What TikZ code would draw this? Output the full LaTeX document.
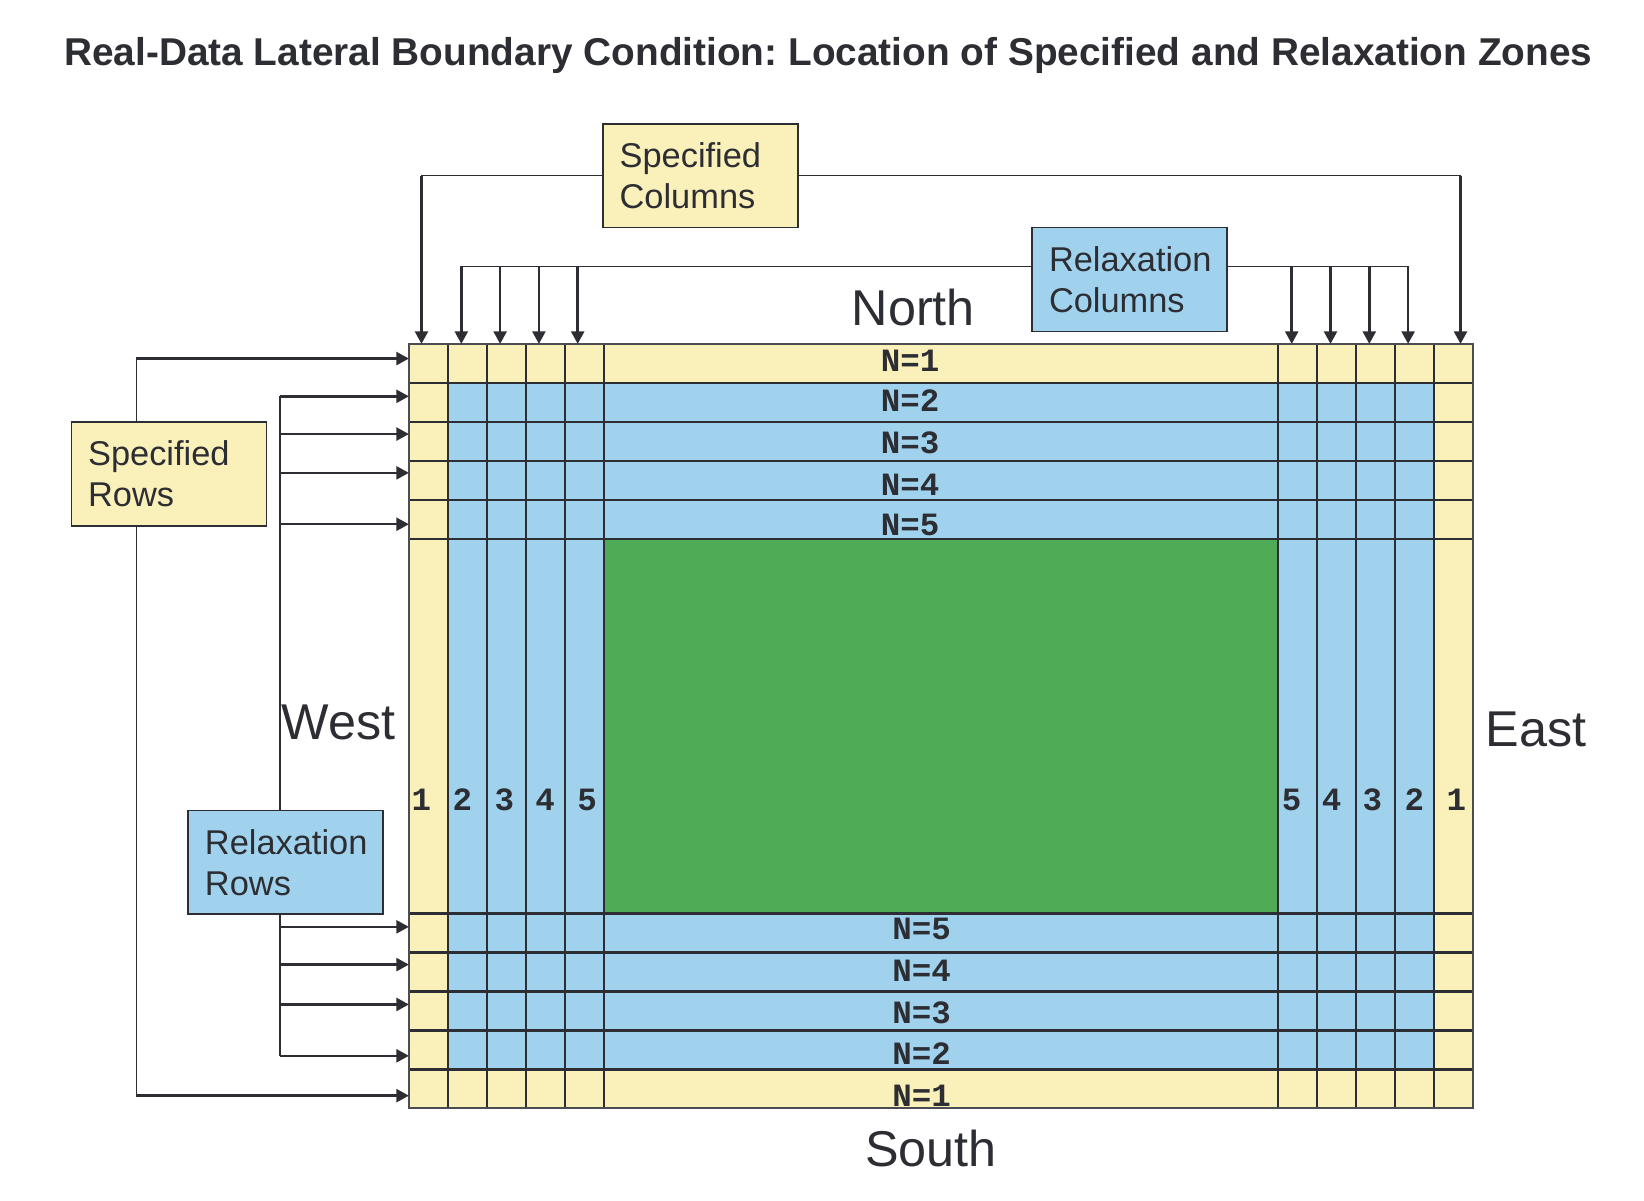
\documentclass[tikz,border=0pt]{standalone}
\usepackage{fontspec}
\setmainfont{Liberation Sans}
\setmonofont{Liberation Mono}
\usetikzlibrary{arrows.meta}
\definecolor{bcYellow}{HTML}{FAF0BA}
\definecolor{bcBlue}{HTML}{A0D2EE}
\definecolor{bcGreen}{HTML}{4FAB55}
\definecolor{bcInk}{HTML}{2D2E33}
\frenchspacing

\begin{document}
\begin{tikzpicture}[x=0.5pt, y=-0.5pt, >={Triangle[length=6pt,width=6.2pt]},
    zonebox/.style={draw=bcInk, line width=0.75pt, minimum width=93pt, minimum height=49.5pt,
                    text width=77pt, inner xsep=8pt, align=left, text=bcInk,
                    font=\fontsize{16.4}{19.5}\selectfont},
    compass/.style={font=\fontsize{24}{28}\selectfont, text=bcInk, inner sep=0pt, anchor=base},
    rowlbl/.style={font=\ttfamily\bfseries\fontsize{15.5}{17}\selectfont, text=bcInk, inner sep=0pt},
    gridline/.style={draw=bcInk, line width=1.3pt},
    link/.style={draw=bcInk, line width=0.65pt},
    feed/.style={->, draw=bcInk, line width=1.2pt}]

  \useasboundingbox (0,0) rectangle (1568,1145);

  \node[font=\bfseries\fontsize{18.5}{22}\selectfont, text=bcInk, anchor=base, inner sep=0pt] (title) at (790,62)
        {Real-Data Lateral Boundary Condition: Location of Specified and Relaxation Zones};

  % the grid
  \fill[bcYellow] (390,328) rectangle (1405,1057);
  \fill[bcBlue]   (427.2,365.2) rectangle (1367.8,1019.8);
  \fill[bcGreen]  (576,514) rectangle (1219,871);
  \foreach \x in {427.2,464.4,501.6,538.8,576,1219,1256.2,1293.4,1330.6,1367.8} {
    \draw[gridline] (\x,328) -- (\x,1057);
  }
  \foreach \y in {365.2,402.4,439.6,476.8,514,871,908.2,945.4,982.6,1019.8} {
    \draw[gridline] (390,\y) -- (1405,\y);
  }
  \draw[bcInk!85, line width=0.8pt] (390,328) rectangle (1405,1057);

  \foreach \lbl/\y [count=\i] in {1/344,2/382,3/422,4/462,5/501} {
    \node[rowlbl] (nt\i) at (868,\y) {N=\lbl};
  }
  \foreach \lbl/\y [count=\i] in {5/886,4/926,3/966,2/1005,1/1045} {
    \node[rowlbl] (nb\i) at (879,\y) {N=\lbl};
  }
  \foreach \x [count=\i] in {402,441,481,520,560} {
    \node[rowlbl] (cw\i) at (\x,763) {\i};
  }
  \foreach \x/\lbl [count=\i] in {1232/5,1270/4,1309/3,1349/2,1389/1} {
    \node[rowlbl] (ce\i) at (\x,763) {\lbl};
  }

  \node[compass] (north) at (871,310)  {North};
  \node[compass] (south) at (888,1113) {South};
  \node[compass] (west)  at (323,705)  {West};
  \node[compass] (east)  at (1465,712) {East};

  \node[zonebox, fill=bcYellow] (speccols)  at (668,167.5)   {Specified\\Columns};
  \node[zonebox, fill=bcBlue]   (relaxcols) at (1077.5,266.5) {Relaxation\\Columns};
  \node[zonebox, fill=bcYellow] (specrows)  at (161,452)     {Specified\\Rows};
  \node[zonebox, fill=bcBlue]   (relaxrows) at (272.5,822.5) {Relaxation\\Rows};

  % specified columns
  \coordinate (scw) at (402,328);
  \coordinate (sce) at (1393,328);
  \draw[link] (speccols.west) -- (speccols.west -| scw);
  \draw[feed] (speccols.west -| scw) -- (scw);
  \draw[link] (speccols.east) -- (speccols.east -| sce);
  \draw[feed] (speccols.east -| sce) -- (sce);

  % relaxation columns
  \coordinate (rcl) at (440,254);
  \coordinate (rcr) at (1343,254);
  \draw[link] (relaxcols.west |- rcl) -- (rcl);
  \draw[link] (relaxcols.east |- rcr) -- (rcr);
  \foreach \x [count=\i] in {440,477,514,551} {
    \coordinate (rw\i) at (\x,328);
    \draw[feed] (rw\i |- rcl) -- (rw\i);
  }
  \foreach \x [count=\i] in {1232,1269,1306,1343} {
    \coordinate (re\i) at (\x,328);
    \draw[feed] (re\i |- rcr) -- (re\i);
  }

  % specified rows
  \coordinate (srn) at (130,342);
  \coordinate (srs) at (130,1045);
  \coordinate (srt) at (390,342);
  \coordinate (srb) at (390,1045);
  \draw[link] (srn |- specrows.north) -- (srn);
  \draw[feed] (srn) -- (srt);
  \draw[link] (srs |- specrows.south) -- (srs);
  \draw[feed] (srs) -- (srb);

  % relaxation rows
  \coordinate (rrn) at (267,378);
  \coordinate (rrs) at (267,1007);
  \draw[link] (rrn |- relaxrows.north) -- (rrn);
  \draw[link] (rrs |- relaxrows.south) -- (rrs);
  \foreach \y [count=\i] in {378,414,451,500} {
    \coordinate (rn\i) at (390,\y);
    \draw[feed] (rrn |- rn\i) -- (rn\i);
  }
  \foreach \y [count=\i] in {884,920,958,1007} {
    \coordinate (rs\i) at (390,\y);
    \draw[feed] (rrs |- rs\i) -- (rs\i);
  }

\end{tikzpicture}
\end{document}
